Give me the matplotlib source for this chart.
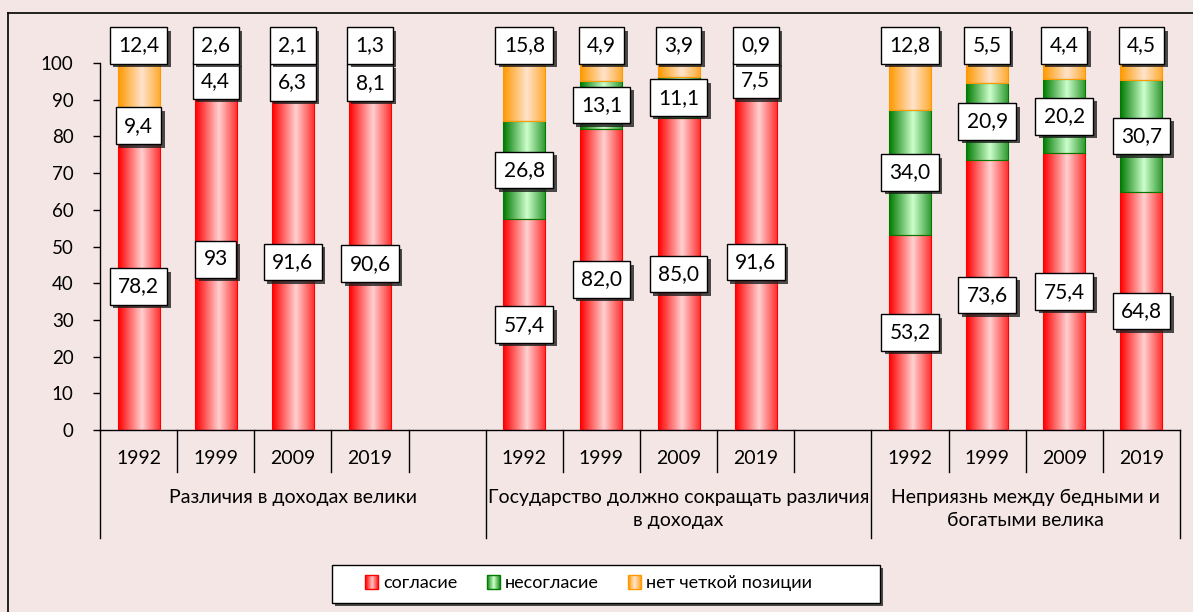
import matplotlib.pyplot as plt
import numpy as np
import matplotlib.patheffects as pe
from matplotlib.patches import Rectangle
from matplotlib.lines import Line2D
from matplotlib.colors import to_rgb
from matplotlib.legend_handler import HandlerBase

plt.rcParams['font.family'] = ['Lato', 'DejaVu Sans']

groups = ['Различия в доходах велики',
          'Государство должно сокращать различия\nв доходах',
          'Неприязнь между бедными и\nбогатыми велика']
years = ['1992', '1999', '2009', '2019']
series = ['согласие', 'несогласие', 'нет четкой позиции']

agree = [78.2, 93, 91.6, 90.6, 57.4, 82.0, 85.0, 91.6, 53.2, 73.6, 75.4, 64.8]
disagree = [9.4, 4.4, 6.3, 8.1, 26.8, 13.1, 11.1, 7.5, 34.0, 20.9, 20.2, 30.7]
unsure = [12.4, 2.6, 2.1, 1.3, 15.8, 4.9, 3.9, 0.9, 12.8, 5.5, 4.4, 4.5]

# edge colour, light centre colour of the gradient
grad_cols = [('#FF0000', '#FFD0D0'), ('#007A00', '#CCFFCC'), ('#FF9900', '#FFE3CC')]
bg = '#F5E6E6'
W, H = 1193, 612


def fmt(v):
    if isinstance(v, int):
        return str(v)
    return f'{v:.1f}'.replace('.', ',')


def gradient(n, c_edge, c_mid):
    u = np.linspace(0, 1, n)
    t = np.clip(1 - np.abs(u - 0.56) / 0.56, 0, 1)
    e, m = np.array(to_rgb(c_edge)), np.array(to_rgb(c_mid))
    return e[None, :] * (1 - t[:, None]) + m[None, :] * t[:, None]


class GradHandler(HandlerBase):
    def __init__(self, c_edge, c_mid):
        super().__init__()
        self.c_edge, self.c_mid = c_edge, c_mid

    def legend_artist(self, legend, orig_handle, fontsize, handlebox):
        x0, y0 = -handlebox.xdescent, -handlebox.ydescent
        w, h = handlebox.width, handlebox.height
        n = 14
        cols = gradient(n, self.c_edge, self.c_mid)
        for k in range(n):
            handlebox.add_artist(Rectangle((x0 + k * w / n, y0), w / n, h, fc=cols[k], ec='none',
                                           transform=handlebox.get_transform()))
        out = Rectangle((x0, y0), w, h, fill=False, ec=self.c_edge, lw=1,
                        transform=handlebox.get_transform())
        handlebox.add_artist(out)
        return out


fig = plt.figure(figsize=(W / 100, H / 100), dpi=100, facecolor=bg)
ax = fig.add_axes([100 / W, 1 - 430 / H, 1080 / W, 367 / H])
ax.set_facecolor('none')

x = [g * 5 + i for g in range(3) for i in range(4)]
bottom = np.zeros(len(x))
bar_w = 0.545
for vals, (ce, cm) in zip([agree, disagree, unsure], grad_cols):
    bars = ax.bar(x, vals, width=bar_w, bottom=bottom, color='none', edgecolor=ce, lw=0.8, zorder=3)
    for b in bars:
        ax.imshow(gradient(64, ce, cm)[None, :, :],
                  extent=(b.get_x(), b.get_x() + b.get_width(), b.get_y(), b.get_y() + b.get_height()),
                  aspect='auto', interpolation='bilinear', zorder=2)
    bottom = bottom + np.array(vals, dtype=float)

ax.set_xlim(-0.5, 13.5)
ax.set_ylim(0, 100)


def box_label(xp, yp, s):
    t = ax.text(xp, yp, s, ha='center', va='center', fontsize=15, zorder=6, clip_on=False,
                bbox=dict(boxstyle='square,pad=0.4', fc='white', ec='black', lw=1))
    t.get_bbox_patch().set_path_effects([pe.withSimplePatchShadow(offset=(2.5, -2.5),
                                                                  shadow_rgbFace='#202020', alpha=0.8)])


for i, xp in enumerate(x):
    box_label(xp, agree[i] / 2, fmt(agree[i]))
    box_label(xp, agree[i] + disagree[i] / 2, fmt(disagree[i]))
    box_label(xp, 104.8, fmt(unsure[i]))

# axes styling
for s in ['top', 'right']:
    ax.spines[s].set_visible(False)
ax.spines['left'].set_linewidth(1)
ax.spines['bottom'].set_linewidth(1)
ax.set_yticks(range(0, 101, 10))
ax.tick_params(axis='y', direction='out', length=5, width=1, pad=14, labelsize=13.5)
ax.set_xticks([])

# multi-level category axis
trans = ax.get_xaxis_transform()
short_y = -42 / 367
long_y = -108 / 367
for k in range(15):
    xs = k - 0.5
    is_long = k in (0, 5, 10, 14)
    ax.add_line(Line2D([xs, xs], [0, long_y if is_long else short_y], color='black', lw=1,
                       transform=trans, clip_on=False))
for i, xp in enumerate(x):
    ax.text(xp, -28 / 367, years[i % 4], transform=trans, ha='center', va='center', fontsize=14)
group_centers = [2.0, 7.0, 11.5]
for g, gc in enumerate(group_centers):
    ax.text(gc, -59 / 367, groups[g], transform=trans, ha='center', va='top', fontsize=14,
            linespacing=1.42)

# outer frame
fig.add_artist(Line2D([8 / W, 1], [1 - 13 / H, 1 - 13 / H], color='black', lw=1.2, transform=fig.transFigure))
fig.add_artist(Line2D([8 / W, 8 / W], [0, 1 - 13 / H], color='black', lw=1.2, transform=fig.transFigure))

# legend box
frame = Rectangle((332 / W, 9 / H), 548 / W, 38 / H, transform=fig.transFigure, fc='white', ec='black', lw=1)
frame.set_path_effects([pe.withSimplePatchShadow(offset=(2, -2), shadow_rgbFace='#202020', alpha=0.8)])
fig.add_artist(frame)

handles = [Rectangle((0, 0), 1, 1, label=s) for s in series]
hmap = {h: GradHandler(*c) for h, c in zip(handles, grad_cols)}
leg = fig.legend(handles=handles, handler_map=hmap, loc='center left', bbox_to_anchor=(365 / W, 1 - 583 / H),
                 ncol=3, frameon=False, fontsize=13, handlelength=0.72, handleheight=0.8,
                 handletextpad=0.3, columnspacing=1.6, borderpad=0, borderaxespad=0)
leg.set_zorder(10)

fig.savefig('out.png', dpi=100, facecolor=bg)
